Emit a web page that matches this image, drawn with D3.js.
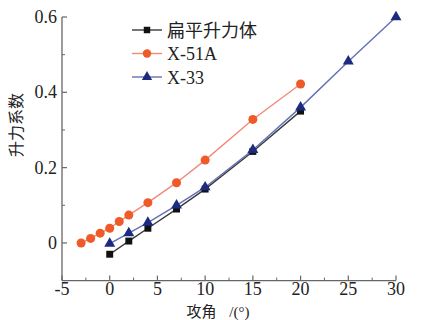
<!DOCTYPE html>
<html>
<head>
<meta charset="utf-8">
<script src="https://cdn.jsdelivr.net/npm/d3@7"></script>
<style>
  html, body { margin: 0; padding: 0; background: #fff; }
  svg { display: block; }
  text { font-family: "Liberation Serif", "Noto Sans CJK SC", serif; fill: #222; }
</style>
</head>
<body>
<div id="chart"></div>
<script>
// Lift coefficient vs. angle of attack for three lifting-body shapes
const seriesNames = ["扁平升力体", "X-51A", "X-33"];

const flatAlpha = [0, 2, 4, 7, 10, 15, 20];
const flatCL    = [-0.03, 0.005, 0.039, 0.09, 0.143, 0.243, 0.35];

const x51Alpha = [-3, -2, -1, 0, 1, 2, 4, 7, 10, 15, 20];
const x51CL    = [0.0, 0.012, 0.026, 0.039, 0.057, 0.074, 0.107, 0.16, 0.22, 0.328, 0.422];

const x33Alpha = [0, 2, 4, 7, 10, 15, 20, 25, 30];
const x33CL    = [-0.002, 0.026, 0.054, 0.1, 0.148, 0.247, 0.36, 0.482, 0.6];

const xTicks = [-5, 0, 5, 10, 15, 20, 25, 30];
const xMinorTicks = [-2.5, 2.5, 7.5, 12.5, 17.5, 22.5, 27.5];
const yTicks = [0, 0.2, 0.4, 0.6];
const yMinorTicks = [0.1, 0.3, 0.5];
const xTickLabels = ["-5", "0", "5", "10", "15", "20", "25", "30"];
const yTickLabels = ["0", "0.2", "0.4", "0.6"];

const xLabel = "攻角 /(°)";
const yLabel = "升力系数";

const W = 422, H = 320;
const svg = d3.select("#chart").append("svg").attr("width", W).attr("height", H);

const x = d3.scaleLinear().domain([-5, 30]).range([62, 396]);
const y = d3.scaleLinear().domain([-0.1, 0.6]).range([280.6, 17]);

const axisColor = "#666";

// bottom axis with inward ticks
const gx = svg.append("g").attr("transform", `translate(0,${y(-0.1)})`);
gx.append("line").attr("x1", x(-5)).attr("x2", x(30)).attr("stroke", axisColor).attr("stroke-width", 1.3);
gx.selectAll("line.major").data(xTicks).join("line")
  .attr("class", "major")
  .attr("x1", d => x(d)).attr("x2", d => x(d)).attr("y1", 0).attr("y2", -5)
  .attr("stroke", axisColor).attr("stroke-width", 1.2);
gx.selectAll("line.minor").data(xMinorTicks).join("line")
  .attr("class", "minor")
  .attr("x1", d => x(d)).attr("x2", d => x(d)).attr("y1", 0).attr("y2", -3)
  .attr("stroke", axisColor).attr("stroke-width", 1);
gx.selectAll("text").data(xTicks).join("text")
  .attr("x", d => x(d)).attr("y", 14.5)
  .attr("text-anchor", "middle").attr("font-size", 18)
  .text((d, i) => xTickLabels[i]);

// left axis with inward ticks
const gy = svg.append("g").attr("transform", `translate(${x(-5)},0)`);
gy.append("line").attr("y1", y(-0.1)).attr("y2", y(0.6)).attr("stroke", axisColor).attr("stroke-width", 1.3);
gy.selectAll("line.major").data(yTicks).join("line")
  .attr("class", "major")
  .attr("y1", d => y(d)).attr("y2", d => y(d)).attr("x1", 0).attr("x2", 5)
  .attr("stroke", axisColor).attr("stroke-width", 1.2);
gy.selectAll("line.minor").data(yMinorTicks).join("line")
  .attr("class", "minor")
  .attr("y1", d => y(d)).attr("y2", d => y(d)).attr("x1", 0).attr("x2", 3)
  .attr("stroke", axisColor).attr("stroke-width", 1);
gy.selectAll("text").data(yTicks).join("text")
  .attr("x", -5).attr("y", d => y(d) + 6)
  .attr("text-anchor", "end").attr("font-size", 18)
  .text((d, i) => yTickLabels[i]);

// axis titles
svg.append("text")
  .attr("x", 218).attr("y", 317)
  .attr("text-anchor", "middle").attr("font-size", 15)
  .attr("word-spacing", 9)
  .text(xLabel);
svg.append("text")
  .attr("transform", "translate(22,125) rotate(-90)")
  .attr("text-anchor", "middle").attr("font-size", 16)
  .text(yLabel);

// series
const series = [
  { name: seriesNames[0], xs: flatAlpha, ys: flatCL, line: "#3a3a3a", fill: "#111", shape: d3.symbolSquare, size: 48 },
  { name: seriesNames[2], xs: x33Alpha, ys: x33CL, line: "#6470b4", fill: "#1c2a80", shape: d3.symbolTriangle, size: 52 },
  { name: seriesNames[1], xs: x51Alpha, ys: x51CL, line: "#f28a7a", fill: "#f05a28", shape: d3.symbolCircle, size: 64 }
];

const lineGen = d3.line().x(d => x(d[0])).y(d => y(d[1]));

series.forEach(s => {
  const pts = s.xs.map((v, i) => [v, s.ys[i]]);
  svg.append("path").datum(pts)
    .attr("d", lineGen).attr("fill", "none")
    .attr("stroke", s.line).attr("stroke-width", 1.4);
});
series.forEach(s => {
  const pts = s.xs.map((v, i) => [v, s.ys[i]]);
  svg.append("g").selectAll("path").data(pts).join("path")
    .attr("transform", d => `translate(${x(d[0])},${y(d[1])})`)
    .attr("d", d3.symbol().type(s.shape).size(s.size))
    .attr("fill", s.fill);
});

// legend
const legendItems = [
  { name: seriesNames[0], line: "#3a3a3a", fill: "#111", shape: d3.symbolSquare, size: 42 },
  { name: seriesNames[1], line: "#f28a7a", fill: "#f05a28", shape: d3.symbolCircle, size: 56 },
  { name: seriesNames[2], line: "#6470b4", fill: "#1c2a80", shape: d3.symbolTriangle, size: 46 }
];
const lg = svg.append("g");
legendItems.forEach((it, i) => {
  const cy = 30 + i * 23.5;
  lg.append("line").attr("x1", 132).attr("x2", 162).attr("y1", cy).attr("y2", cy)
    .attr("stroke", it.line).attr("stroke-width", 1.4);
  lg.append("path").attr("transform", `translate(147,${cy})`)
    .attr("d", d3.symbol().type(it.shape).size(it.size)).attr("fill", it.fill);
  lg.append("text").attr("x", 167).attr("y", cy + 6.5)
    .attr("font-size", 18).text(it.name);
});
</script>
</body>
</html>
